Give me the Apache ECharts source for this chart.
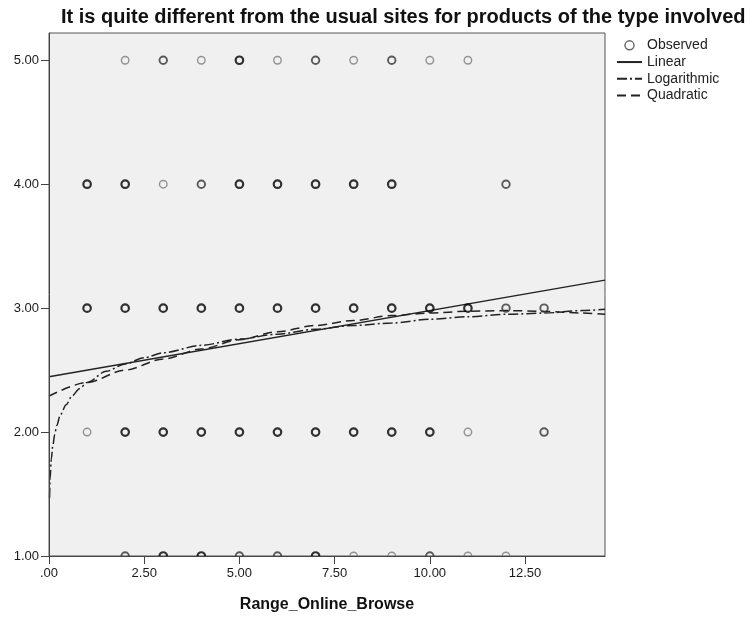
<!DOCTYPE html>
<html>
<head>
<meta charset="utf-8">
<script src="https://cdn.jsdelivr.net/npm/echarts@6/dist/echarts.min.js"></script>
<style>
html,body{margin:0;padding:0;background:#fff;}
#chart{width:754px;height:618px;}
</style>
</head>
<body>
<div id="chart"></div>
<script>
// ---- Data ----
const titleText = 'It is quite different from the usual sites for products of the type involved';
const xAxisName = 'Range_Online_Browse';
const xTicks = [0, 2.5, 5, 7.5, 10, 12.5];
const yTicks = [1, 2, 3, 4, 5];

// Observed points (x, y, estimated number of overlapping cases)
const obsX = [2,3,4,5,6,7,8,9,10,11,
              1,2,3,4,5,6,7,8,9,12,
              1,2,3,4,5,6,7,8,9,10,11,12,13,
              1,2,3,4,5,6,7,8,9,10,11,13,
              2,3,4,5,6,7,8,9,10,11,12];
const obsY = [5,5,5,5,5,5,5,5,5,5,
              4,4,4,4,4,4,4,4,4,4,
              3,3,3,3,3,3,3,3,3,3,3,3,3,
              2,2,2,2,2,2,2,2,2,2,2,2,
              1,1,1,1,1,1,1,1,1,1,1];
const obsCount = [1,2,1,3,1,2,1,2,1,1,
                  3,3,1,2,3,3,3,3,3,2,
                  3,3,3,3,3,3,3,3,3,3,3,2,2,
                  1,3,3,3,3,3,3,3,3,3,1,2,
                  2,3,3,2,2,3,1,1,2,1,1];

// Fitted curves
const linX = [0, 14.6];
const linY = [2.446, 3.226];
const logX = [0.015,0.03,0.06,0.1,0.15,0.2,0.3,0.45,0.6,0.8,1,1.5,2,2.5,3,4,5,6,7,8,9,10,11,12,13,14,14.6];
const logY = [1.47,1.63,1.78,1.89,1.98,2.05,2.14,2.22,2.29,2.35,2.40,2.49,2.55,2.60,2.64,2.70,2.75,2.79,2.83,2.86,2.88,2.91,2.93,2.95,2.96,2.98,2.99];
const quadX = [0,1,2,3,4,5,6,7,8,9,10,11,12,13,14,14.6];
const quadY = [2.29,2.40,2.50,2.59,2.67,2.745,2.81,2.86,2.90,2.94,2.96,2.975,2.98,2.975,2.96,2.95];

// ---- Chart ----
const FONT = 'Liberation Sans, Arial, sans-serif';
function shade(c){ return c >= 3 ? '#000' : (c === 2 ? '#333' : '#7a7a7a'); }
function width(c){ return c >= 3 ? 2.2 : (c === 2 ? 1.9 : 1.4); }
const obsData = obsX.map((x, i) => ({
  value: [x, obsY[i]],
  itemStyle: { borderColor: shade(obsCount[i]), borderWidth: width(obsCount[i]) }
}));
const pairs = (xs, ys) => xs.map((x, i) => [x, ys[i]]);
const fmt = v => v.toFixed(2).replace(/^0\./, '.');
const noDot = { color: 'rgba(0,0,0,0)', borderWidth: 0, borderColor: 'rgba(0,0,0,0)' };

const chart = echarts.init(document.getElementById('chart'), null, {renderer: 'canvas'});
chart.setOption({
  animation: false,
  backgroundColor: '#fff',
  textStyle: { fontFamily: FONT },
  title: {
    text: titleText, left: 61, top: 7, padding: 0,
    textStyle: { fontFamily: FONT, fontSize: 20, fontWeight: 'bold', color: '#111' }
  },
  legend: {
    orient: 'vertical', left: 616, top: 37, padding: 0,
    itemWidth: 25, itemHeight: 9, itemGap: 0,
    textStyle: { fontFamily: FONT, fontSize: 14, color: '#222', lineHeight: 16.7 },
    data: [
      { name: 'Observed', icon: 'circle', itemStyle: { color: 'rgba(0,0,0,0)', borderColor: '#444', borderWidth: 1.5 } },
      { name: 'Linear', itemStyle: noDot },
      { name: 'Logarithmic', itemStyle: noDot },
      { name: 'Quadratic', itemStyle: noDot }
    ]
  },
  grid: {
    left: 49, top: 33, right: 149, bottom: 62,
    show: true, backgroundColor: '#f0f0f0', borderColor: '#555', borderWidth: 1
  },
  xAxis: {
    type: 'value', min: 0, max: 14.6, z: 5,
    name: xAxisName, nameLocation: 'middle', nameGap: 41,
    nameTextStyle: { fontFamily: FONT, fontSize: 16, fontWeight: 'bold', color: '#111' },
    axisLine: { show: true, lineStyle: { color: '#444', width: 1 } },
    axisTick: { show: true, length: 8, customValues: xTicks, lineStyle: { color: '#444' } },
    axisLabel: { customValues: xTicks, formatter: fmt, fontFamily: FONT, fontSize: 13, color: '#1a1a1a', margin: 11 },
    splitLine: { show: false }
  },
  yAxis: {
    type: 'value', min: 1, max: 5.22, z: 5,
    axisLine: { show: true, lineStyle: { color: '#444', width: 1 } },
    axisTick: { show: true, length: 8, customValues: yTicks, lineStyle: { color: '#444' } },
    axisLabel: { customValues: yTicks, formatter: fmt, fontFamily: FONT, fontSize: 13, color: '#1a1a1a', margin: 10 },
    splitLine: { show: false }
  },
  graphic: [{
    type: 'rect', z: 3, zlevel: 0, silent: true,
    shape: { x: 47, y: 557, width: 562, height: 9 },
    style: { fill: '#fff' }
  }],
  series: [
    {
      name: 'Observed', type: 'scatter', symbol: 'circle', symbolSize: 7.5,
      itemStyle: { color: 'rgba(0,0,0,0)', borderColor: '#444', borderWidth: 1.5 },
      data: obsData, z: 2
    },
    {
      name: 'Linear', type: 'line', showSymbol: false, symbol: 'none', z: 2,
      lineStyle: { color: '#222', width: 1.5, type: 'solid' },
      itemStyle: { color: '#222' },
      data: pairs(linX, linY)
    },
    {
      name: 'Logarithmic', type: 'line', showSymbol: false, symbol: 'none', z: 2,
      smooth: 0.3, smoothMonotone: 'x',
      lineStyle: { color: '#222', width: 1.5, type: [10, 3, 2, 3] },
      itemStyle: { color: '#222' },
      data: pairs(logX, logY)
    },
    {
      name: 'Quadratic', type: 'line', showSymbol: false, symbol: 'none', z: 2,
      smooth: 0.3, smoothMonotone: 'x',
      lineStyle: { color: '#222', width: 1.5, type: [9, 5] },
      itemStyle: { color: '#222' },
      data: pairs(quadX, quadY)
    }
  ]
});
</script>
</body>
</html>
